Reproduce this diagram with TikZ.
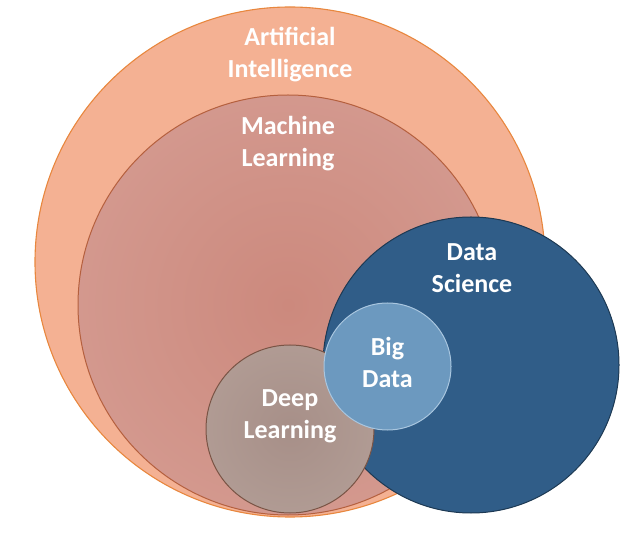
\documentclass[tikz,border=0pt]{standalone}
\usepackage{fontspec}
\setmainfont{Carlito}
\definecolor{aifill}{HTML}{F4B193}
\definecolor{aiedge}{HTML}{E8873E}
\definecolor{mlin}{HTML}{CC897D}
\definecolor{mlout}{HTML}{D9A59C}
\definecolor{mledge}{HTML}{B5603E}
\definecolor{dsfill}{HTML}{305D88}
\definecolor{dsedge}{HTML}{1D3953}
\definecolor{dlin}{HTML}{A78F88}
\definecolor{dlout}{HTML}{B8A59D}
\definecolor{dledge}{HTML}{7A5445}
\definecolor{bdfill}{HTML}{6C99BF}
\definecolor{bdedge}{HTML}{A9C6DF}
\pgfdeclareradialshading{mlshade}{\pgfpoint{0bp}{0bp}}{color(0bp)=(mlin); color(46bp)=(mlout); color(50bp)=(mlout)}
\pgfdeclareradialshading{dlshade}{\pgfpoint{0bp}{0bp}}{color(0bp)=(dlin); color(46bp)=(dlout); color(50bp)=(dlout)}
\tikzset{
  setc/.style={circle, inner sep=0pt, outer sep=0pt},
  lbl/.style={text=white, font=\fontsize{26}{32}\selectfont\bfseries, align=center, anchor=base, inner sep=0pt}
}
\begin{document}
\begin{tikzpicture}[x=1pt,y=1pt]
\useasboundingbox (0,0) rectangle (631,538);
% Artificial Intelligence
\node[setc, minimum size=510pt, fill=aifill, draw=aiedge, line width=1.1pt] (ai) at (290,276) {};
% Machine Learning
\node[setc, minimum size=420pt, shading=mlshade, draw=mledge, line width=1pt] (ml) at (288,233) {};
% Data Science
\node[setc, minimum size=296pt, fill=dsfill, draw=dsedge, line width=1pt] (ds) at (471,173) {};
% Deep Learning
\node[setc, minimum size=168pt, shading=dlshade, draw=dledge, line width=1pt] (dl) at (290,109) {};
% Big Data
\node[setc, minimum size=127pt, fill=bdfill, draw=bdedge, line width=1pt] (bd) at (387.5,171.5) {};
% labels
\node[lbl] (tai) at (290,460) {Artificial\\Intelligence};
\node[lbl] (tml) at (288,371) {Machine\\Learning};
\node[lbl] (tds) at (472,245) {Data\\Science};
\node[lbl] (tbd) at (387.5,150) {Big\\Data};
\node[lbl] (tdl) at (290,100) {Deep\\Learning};
\end{tikzpicture}
\end{document}
